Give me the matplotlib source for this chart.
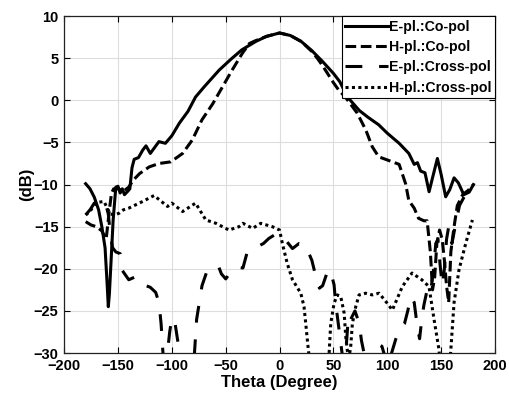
import numpy as np
import matplotlib
matplotlib.use("Agg")
import matplotlib.pyplot as plt

plt.rcParams['font.family'] = ['Liberation Sans', 'DejaVu Sans']
plt.rcParams['font.weight'] = 'bold'

# E-plane co-polar
e_co_theta = [-180, -176, -172, -168, -165, -162, -160, -159, -158, -156, -154.5, -152,
              -150, -148, -146, -144, -141, -139, -137, -135, -131, -127, -124, -120,
              -116, -112, -106, -100, -93, -85, -78, -70, -63, -56, -45, -35, -22, -12,
              0, 10, 20, 30, 40, 50, 56, 63, 74, 82, 92, 100, 111, 120, 125, 128, 131,
              135, 138.8, 142, 146.5, 150, 154.2, 158, 162, 166, 171, 176, 180]
e_co_db = [-9.9, -10.5, -11.5, -13, -15, -17.5, -22, -24.5, -23, -18, -14.2, -10.3,
           -10.2, -11, -10.5, -11.2, -10.8, -10.5, -8, -7, -6.8, -5.9, -5.4, -6.3,
           -5.6, -4.9, -5.1, -4.2, -2.7, -1.3, 0.4, 1.6, 2.6, 3.6, 4.9, 6.0, 7.0, 7.6,
           8.0, 7.7, 7.0, 5.9, 4.6, 3.2, 2.2, 0.4, -1.2, -2.0, -2.9, -3.9, -5.1, -6.3,
           -7.6, -7.4, -8.4, -8.6, -10.85, -9.2, -6.9, -8.8, -11.45, -10.6, -9.2, -9.8,
           -11.2, -10.9, -10.0]

# H-plane co-polar
h_co_theta = [-180, -175, -170, -165, -161, -158, -156, -154, -150, -145, -140, -136,
              -130, -121, -112, -101, -90, -81, -72, -62, -53, -44, -34.5, -28, -22,
              -12, 0, 10, 20, 30, 35, 40, 45, 50, 55, 61, 72, 80, 86, 92, 104.7, 111,
              117, 120, 125, 129, 134, 137, 140, 142, 144, 146, 148.5, 151, 153, 155,
              157, 159, 162, 165, 170, 175, 180]
h_co_db = [-14.4, -14.8, -15, -15.5, -16.5, -13, -11, -10.5, -10.5, -10.8, -10.3, -9.5,
           -8.7, -7.9, -7.5, -7.3, -6.3, -4.7, -2.3, -0.4, 1.6, 3.6, 5.6, 6.75, 7.1,
           7.6, 8.0, 7.7, 7.0, 5.8, 5.0, 4.1, 3.1, 2.1, 1.2, 0.4, -1.5, -3.5, -5.5,
           -6.7, -7.3, -7.6, -9.9, -11.9, -12.8, -14.0, -14.3, -14.3, -18, -22.5,
           -21, -17, -15.4, -16.5, -19, -22, -24, -18, -15, -12.5, -11.2, -10.7, -10.0]

# E-plane cross-polar
e_x_theta = [-180, -176, -172, -165, -162, -159, -157, -155, -152, -148, -146, -140,
             -133, -126, -120, -115, -112, -110, -108, -105, -102, -100, -97, -94,
             -90, -83, -79, -77, -72, -68, -61, -57, -54, -50, -46, -40, -34, -30,
             -21, -15, -10, -5, 0, 5, 12, 18, 24, 30, 34, 37, 40, 44, 47, 50.6, 52,
             54, 57, 59, 62, 64, 66, 70, 74, 76, 80, 88, 92, 95, 98, 101, 104, 108,
             112, 116, 119, 122, 125, 128, 130, 132, 134, 137, 139, 141, 143, 145,
             147, 149, 151, 153, 155, 157, 160, 163, 167, 172, 176, 180]
e_x_db = [-13.6, -13.0, -12.2, -11.8, -12.0, -13.5, -16, -17.5, -18, -18.2, -20.2,
          -21.3, -20.9, -21.9, -22.2, -22.8, -24, -26.5, -30.5, -31, -27.5, -25.8,
          -26.5, -29, -32, -32, -30, -26, -22, -20.5, -20, -19.6, -20.6, -21.2, -20.5,
          -19.8, -19.9, -18, -17.4, -17, -16.4, -16, -15.9, -16.5, -17.6, -17.0,
          -17.2, -19, -21.1, -22.3, -22, -20.5, -20.1, -21.9, -24, -26, -29, -31,
          -29, -25.5, -26, -25, -26.5, -28.5, -31, -32, -29, -29.2, -30.5, -31.5,
          -30, -28.3, -27, -26.5, -25, -23.3, -24, -27, -28.3, -26, -24.3, -22.5,
          -21.5, -22, -20, -17, -16.5, -19.5, -22, -20, -16.5, -15, -17, -15, -12.5,
          -11.3, -11, -10.5]

# H-plane cross-polar
h_x_theta = [-180, -176, -172, -168, -163, -160, -157, -153, -149, -145, -140, -127,
             -116.5, -104, -100, -90, -78, -68.5, -59, -47, -37.6, -34, -25, -17.5,
             -6.7, 0, 2.6, 7.2, 12, 19.7, 22.7, 24.3, 26.7, 30, 40, 46, 47.5, 50.6,
             53.6, 56.8, 60, 61.4, 63, 64.5, 66, 67.6, 70.7, 73.8, 80, 86, 92.4, 100,
             104.7, 114, 123, 132, 138.7, 143.4, 148, 150, 157, 159, 162, 166.6,
             172.8, 179]
h_x_db = [-13.6, -13.2, -12.4, -12.1, -12.0, -12.8, -13.5, -13.6, -13.4, -13.0, -12.8,
          -12.0, -11.3, -12.6, -12.2, -13.2, -12.2, -14.2, -14.6, -15.4, -15.0, -14.6,
          -15.2, -14.6, -15.0, -15.4, -17.0, -19.4, -21.3, -22.9, -24.5, -26.5, -29.6,
          -33, -33, -30, -26.5, -24.1, -23.1, -23.3, -25.3, -28, -29.8, -30.5, -29.3,
          -26.5, -24.5, -23.1, -22.9, -23.1, -22.9, -24.1, -24.9, -22.1, -20.5, -21.3,
          -22.1, -26, -29.6, -33, -33, -29.6, -24, -20.1, -17, -14.2]

fig, ax = plt.subplots(figsize=(5.09, 4.03), dpi=100)
fig.subplots_adjust(left=0.126, right=0.9725, bottom=0.124, top=0.960)

lw = 2.2
ax.plot(e_co_theta, e_co_db, color='black', lw=lw, ls='-', label='E-pl.:Co-pol')
ax.plot(h_co_theta, h_co_db, color='black', lw=lw, dashes=(3.5, 1.5), label='H-pl.:Co-pol')
ax.plot(e_x_theta, e_x_db, color='black', lw=lw, dashes=(5.5, 5.5), label='E-pl.:Cross-pol')
ax.plot(h_x_theta, h_x_db, color='black', lw=lw, dashes=(1, 1.1), label='H-pl.:Cross-pol')

ax.set_xlim(-200, 200)
ax.set_ylim(-30, 10)
ax.set_xticks(np.arange(-200, 201, 50))
ax.set_yticks(np.arange(-30, 11, 5))
ax.grid(True, color='#dddddd', lw=0.8)
ax.set_axisbelow(True)
ax.tick_params(direction='in', length=4, width=0.8, top=True, right=True,
               labelsize=10.5, pad=4)
for lab in ax.get_xticklabels() + ax.get_yticklabels():
    lab.set_fontweight('bold')
for sp in ax.spines.values():
    sp.set_linewidth(0.9)
    sp.set_color('#222222')

ax.set_xlabel('Theta (Degree)', fontsize=12, fontweight='bold', labelpad=2)
ax.set_ylabel('(dB)', fontsize=12, fontweight='bold', labelpad=0)

leg = ax.legend(loc='upper right', fontsize=10.2, frameon=True, fancybox=False,
                borderaxespad=0, handlelength=3.0, handletextpad=0.1,
                labelspacing=0.45, borderpad=0.25, framealpha=1)
leg.get_frame().set_edgecolor('black')
leg.get_frame().set_linewidth(0.8)
for t in leg.get_texts():
    t.set_fontweight('bold')

fig.savefig('out.png', dpi=100)
